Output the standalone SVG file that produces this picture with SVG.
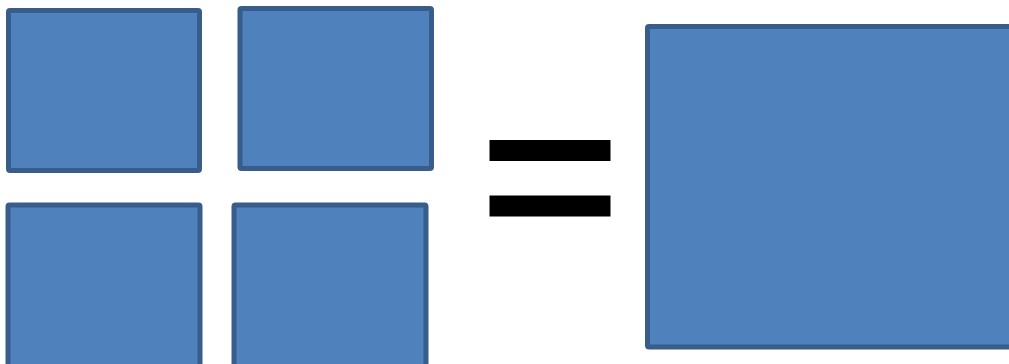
<svg xmlns="http://www.w3.org/2000/svg" width="1009" height="364" viewBox="0 0 1009 364">
<style>
.box{fill:#4F81BD;stroke:#385D8A;stroke-width:5;stroke-linejoin:round}
.bar{fill:#000000}
</style>
<rect width="1009" height="364" fill="#ffffff"/>
<g id="box-top-left"><rect class="box" x="8.5" y="10.5" width="191" height="160" rx="1.5"/></g>
<g id="box-top-right"><rect class="box" x="240" y="8.5" width="191.5" height="160" rx="1.5"/></g>
<g id="box-bottom-left"><rect class="box" x="8" y="205" width="192" height="175" rx="1.5"/></g>
<g id="box-bottom-right"><rect class="box" x="234" y="205" width="192" height="175" rx="1.5"/></g>
<g id="equals-sign">
<rect class="bar" x="489.5" y="140" width="121" height="21"/>
<rect class="bar" x="489.5" y="195.5" width="121" height="21"/>
</g>
<g id="box-large"><rect class="box" x="647.5" y="26.5" width="380" height="320.5" rx="1.5"/></g>
<g id="connectors"></g>
</svg>
